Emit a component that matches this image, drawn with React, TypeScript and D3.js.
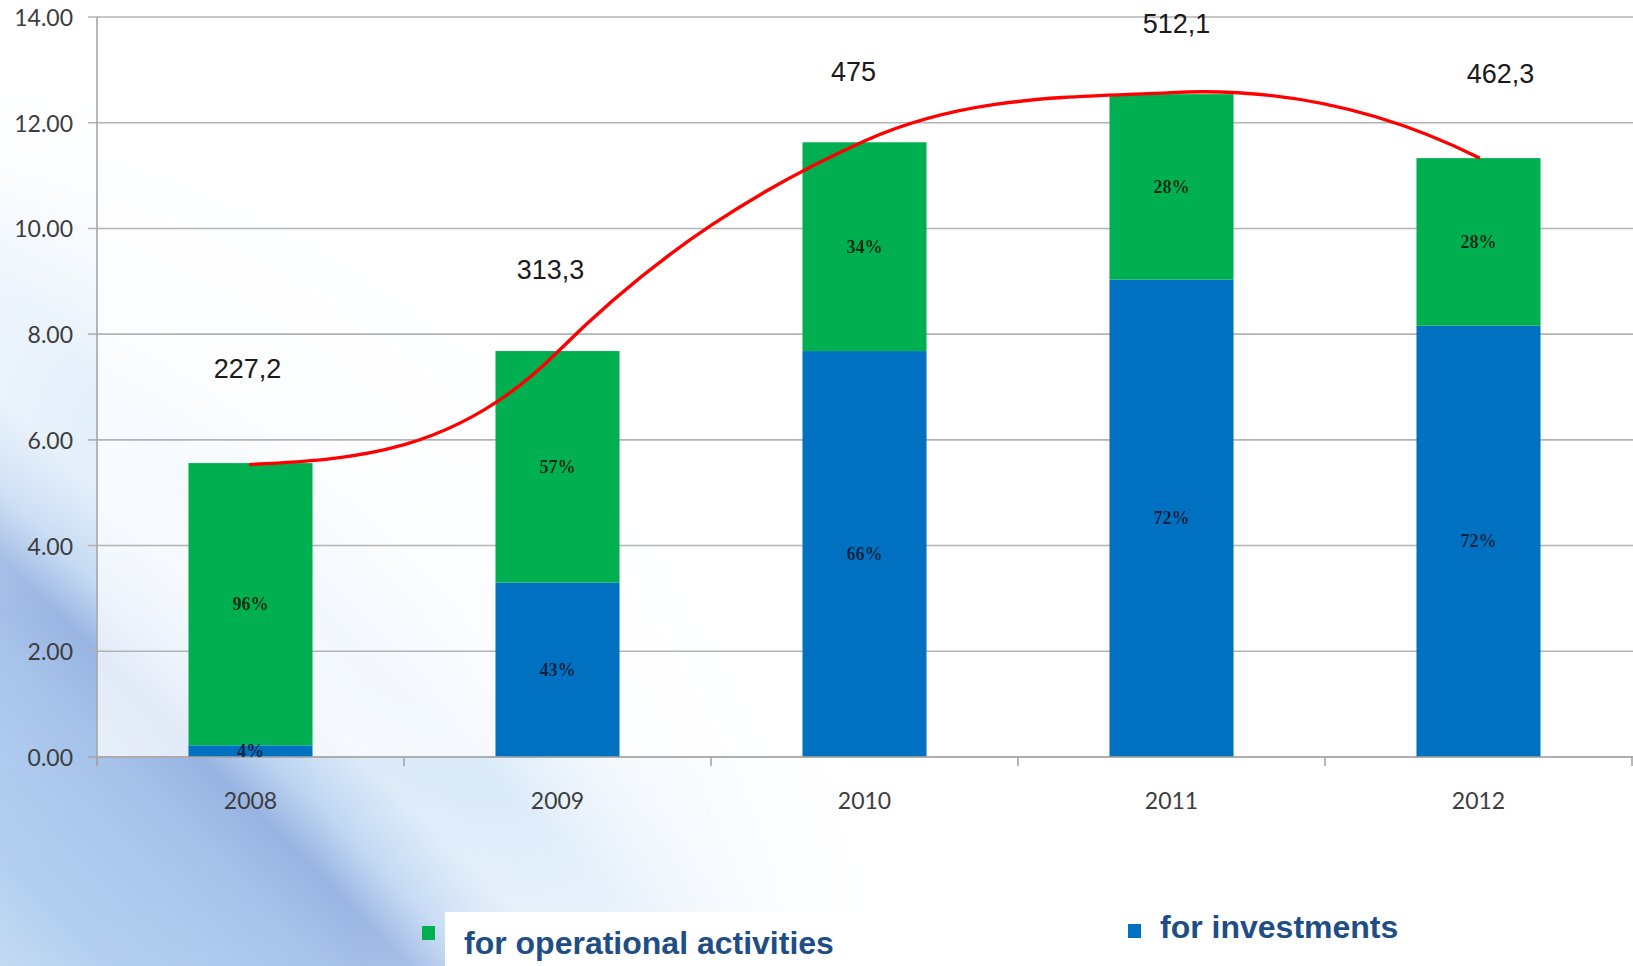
import React from "react";
import * as d3 from "d3";

const years = ["2008", "2009", "2010", "2011", "2012"];
const investments = [0.22, 3.3, 7.68, 9.03, 8.16];
const operational = [5.34, 4.38, 3.95, 3.51, 3.17];
const investPct = ["4%", "43%", "66%", "72%", "72%"];
const operPct = ["96%", "57%", "34%", "28%", "28%"];
const totalValues = [227.2, 313.3, 475, 512.1, 462.3];
const totalLabels = ["227,2", "313,3", "475", "512,1", "462,3"];
const yTicks = [0, 2, 4, 6, 8, 10, 12, 14];
const legendLabels = ["for operational activities", "for investments"];

const W = 1633;
const H = 966;
const GREEN = "#00B050";
const BLUE = "#0070C0";

// layout nudges for total labels (pixels)
const labelDx = [-3, -7, -11, 5, 22];
const labelDy = [95, 82, 69, 69, 84];
// on-screen tangent slopes of the hand-smoothed red line at each point
const curveSlopes = [-0.05, -1.0, -0.45, -0.05, 0.5];

export default function App() {
  const left = 97;
  const right = 1632;
  const top = 17;
  const bottom = 757;

  const x = d3
    .scaleBand<string>()
    .domain(years)
    .range([left, right])
    .paddingInner(0.596)
    .paddingOuter(0.298);
  const step = x.step();
  const y = d3.scaleLinear().domain([0, 14]).range([bottom, top]);
  // hidden secondary axis for the red totals line
  const y2 = d3.scaleLinear().domain([0, 570]).range([761, 17]);
  const totals = years.map((_, i) => investments[i] + operational[i]);
  const cx = (i: number) => (x(years[i]) as number) + x.bandwidth() / 2;

  // cubic Hermite path through the points
  const pts = totalValues.map((v, i) => [cx(i), y2(v)]);
  const p = d3.path();
  p.moveTo(pts[0][0], pts[0][1]);
  for (let i = 0; i < pts.length - 1; i++) {
    const [x0, y0] = pts[i];
    const [x1, y1] = pts[i + 1];
    const h = (x1 - x0) / 3;
    p.bezierCurveTo(
      x0 + h,
      y0 + curveSlopes[i] * h,
      x1 - h,
      y1 - curveSlopes[i + 1] * h,
      x1,
      y1
    );
  }

  const fmt = d3.format(".2f");
  const boundaries = d3.range(years.length + 1).map((i) => left + i * step);

  return (
    <svg
      width={W}
      height={H}
      style={{ position: "absolute", left: 0, top: 0, display: "block" }}
    >
      <defs>
        <linearGradient
          id="streaks"
          gradientUnits="userSpaceOnUse"
          x1={0}
          y1={966}
          x2={683}
          y2={283}
        >
          <stop offset="0" stopColor="#c4dbf3" />
          <stop offset="0.08" stopColor="#b0cdef" />
          <stop offset="0.16" stopColor="#a6c5ec" />
          <stop offset="0.24" stopColor="#9ab9e6" />
          <stop offset="0.30" stopColor="#88a8dd" />
          <stop offset="0.35" stopColor="#b2cdef" />
          <stop offset="0.42" stopColor="#d0e3f7" />
          <stop offset="0.5" stopColor="#b8d6f3" />
          <stop offset="0.6" stopColor="#d8e9f9" />
          <stop offset="0.72" stopColor="#e6f0fb" />
          <stop offset="1" stopColor="#ffffff" />
        </linearGradient>
        <radialGradient
          id="fade"
          gradientUnits="userSpaceOnUse"
          cx={0}
          cy={966}
          r={880}
        >
          <stop offset="0" stopColor="#fff" stopOpacity={1} />
          <stop offset="0.4" stopColor="#fff" stopOpacity={0.85} />
          <stop offset="0.72" stopColor="#fff" stopOpacity={0.3} />
          <stop offset="1" stopColor="#fff" stopOpacity={0} />
        </radialGradient>
        <mask id="fadeMask">
          <rect x={0} y={0} width={W} height={H} fill="url(#fade)" />
        </mask>
        <filter id="soft" x="-20%" y="-20%" width="140%" height="140%">
          <feGaussianBlur stdDeviation="0.7" />
        </filter>
      </defs>

      <rect x={0} y={0} width={W} height={H} fill="#ffffff" />
      <rect
        x={0}
        y={0}
        width={W}
        height={H}
        fill="url(#streaks)"
        mask="url(#fadeMask)"
      />

      {/* plot area */}
      <rect
        x={left}
        y={top}
        width={W - left}
        height={bottom - top}
        fill="#ffffff"
        opacity={0.72}
      />

      {/* gridlines + y ticks */}
      {yTicks.map((t) => (
        <g key={t}>
          <line
            x1={left - 9}
            x2={W}
            y1={y(t)}
            y2={y(t)}
            stroke="#b3b3b3"
            strokeWidth={1.6}
          />
          <text
            x={73}
            y={y(t)}
            textAnchor="end"
            dominantBaseline="central"
            fontFamily="Lato, 'Open Sans', sans-serif"
            fontSize={23}
            fill="#3d3d3d"
          >
            {fmt(t)}
          </text>
        </g>
      ))}

      {/* y axis line */}
      <line
        x1={left}
        x2={left}
        y1={top}
        y2={bottom + 9}
        stroke="#a6a6a6"
        strokeWidth={1.6}
      />

      {/* bars */}
      {years.map((yr, i) => (
        <g key={yr}>
          <rect
            x={x(yr)}
            y={y(investments[i])}
            width={x.bandwidth()}
            height={y(0) - y(investments[i])}
            fill={BLUE}
          />
          <rect
            x={x(yr)}
            y={y(totals[i])}
            width={x.bandwidth()}
            height={y(investments[i]) - y(totals[i])}
            fill={GREEN}
          />
        </g>
      ))}

      {/* x axis */}
      <line
        x1={left - 9}
        x2={W}
        y1={bottom}
        y2={bottom}
        stroke="#a6a6a6"
        strokeWidth={1.6}
      />
      {boundaries.map((b, i) => (
        <line
          key={i}
          x1={b}
          x2={b}
          y1={bottom}
          y2={bottom + 9}
          stroke="#a6a6a6"
          strokeWidth={1.6}
        />
      ))}
      {years.map((yr, i) => (
        <text
          key={yr}
          x={cx(i)}
          y={800}
          textAnchor="middle"
          dominantBaseline="central"
          fontFamily="Lato, 'Open Sans', sans-serif"
          fontSize={23}
          fill="#3d3d3d"
        >
          {yr}
        </text>
      ))}

      {/* percent labels */}
      <g filter="url(#soft)">
        {years.map((yr, i) => (
          <g key={yr}>
            <text
              x={cx(i)}
              y={(y(0) + y(investments[i])) / 2}
              textAnchor="middle"
              dominantBaseline="central"
              fontFamily="'Liberation Serif', 'DejaVu Serif', serif"
              fontWeight="bold"
              fontSize={18}
              fill="#0d2440"
            >
              {investPct[i]}
            </text>
            <text
              x={cx(i)}
              y={(y(investments[i]) + y(totals[i])) / 2}
              textAnchor="middle"
              dominantBaseline="central"
              fontFamily="'Liberation Serif', 'DejaVu Serif', serif"
              fontWeight="bold"
              fontSize={18}
              fill="#0c2a12"
            >
              {operPct[i]}
            </text>
          </g>
        ))}
      </g>

      {/* red smoothed totals line */}
      <path
        d={p.toString()}
        fill="none"
        stroke="#ff0000"
        strokeWidth={3.4}
        strokeLinecap="round"
      />

      {/* total labels */}
      {years.map((yr, i) => (
        <text
          key={yr}
          x={cx(i) + labelDx[i]}
          y={y2(totalValues[i]) - labelDy[i]}
          textAnchor="middle"
          dominantBaseline="central"
          fontFamily="'Liberation Sans', Arial, sans-serif"
          fontSize={27}
          fill="#1a1a1a"
        >
          {totalLabels[i]}
        </text>
      ))}

      {/* legend */}
      <rect x={422} y={926} width={13} height={14} fill={GREEN} />
      <rect x={445} y={912} width={440} height={H - 912} fill="#ffffff" />
      <text
        x={464}
        y={954}
        fontFamily="'Liberation Sans', Arial, sans-serif"
        fontWeight="bold"
        fontSize={32}
        fill="#1f4e85"
      >
        {legendLabels[0]}
      </text>
      <rect x={1128} y={924} width={13} height={14} fill={BLUE} />
      <text
        x={1160}
        y={938}
        fontFamily="'Liberation Sans', Arial, sans-serif"
        fontWeight="bold"
        fontSize={32}
        fill="#1f4e85"
      >
        {legendLabels[1]}
      </text>
    </svg>
  );
}
